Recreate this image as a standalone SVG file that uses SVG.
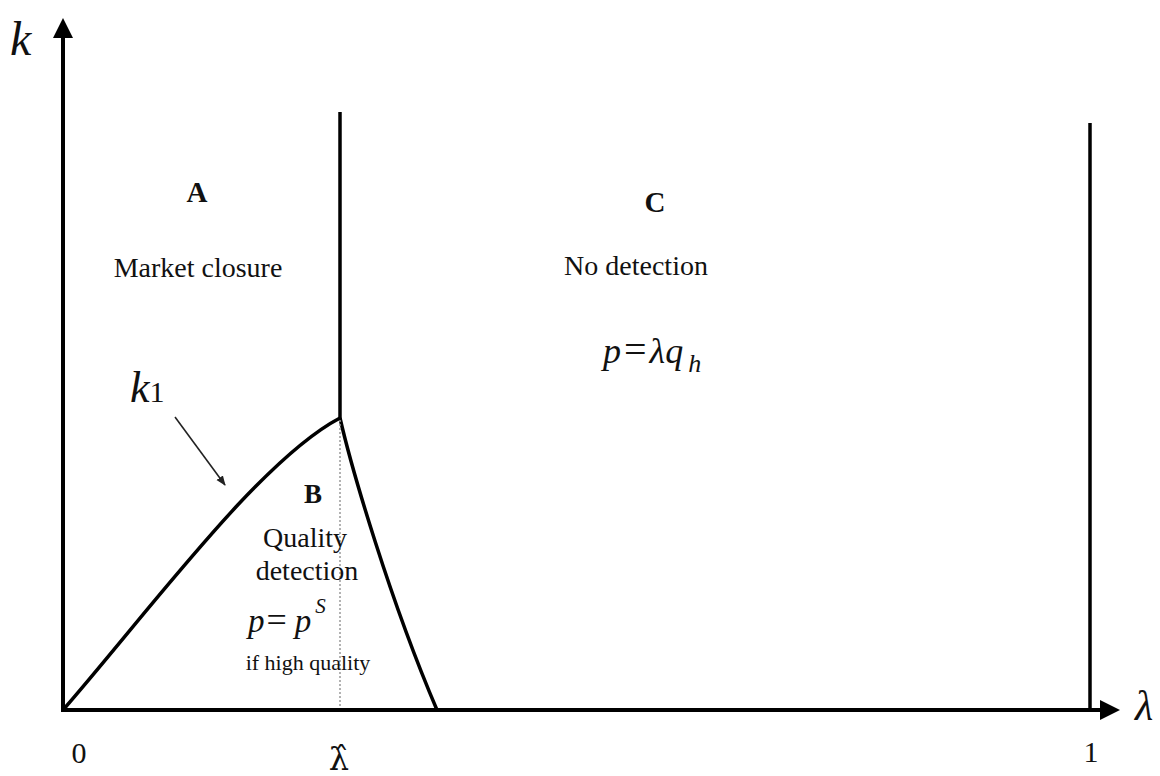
<svg xmlns="http://www.w3.org/2000/svg" width="1160" height="776" viewBox="0 0 1160 776">
<style>
  text { font-family: "Liberation Serif", "Times New Roman", serif; fill: #111; }
  .it { font-style: italic; }
  .b { font-weight: bold; }
  .axis { stroke: #000; stroke-width: 4; fill: none; }
  .bound { stroke: #000; stroke-width: 3.5; fill: none; }
  .dot { stroke: #999; stroke-width: 1.5; stroke-dasharray: 2 2; fill: none; }
  .pointer { stroke: #222; stroke-width: 1.6; fill: none; }
</style>
<defs>
  <marker id="smallArrow" markerWidth="10" markerHeight="10" refX="9" refY="5" orient="auto" markerUnits="userSpaceOnUse">
    <path d="M0,1 L10,5 L0,9 Z" fill="#222"/>
  </marker>
</defs>
<rect width="1160" height="776" fill="#fff"/>

<g id="connectors">
  <line class="axis" x1="63" y1="712" x2="63" y2="34"/>
  <path d="M53,38 L63,18 L73,38 Z" fill="#000"/>
  <line class="axis" x1="61" y1="710" x2="1104" y2="710"/>
  <path d="M1100,700 L1120,710 L1100,720 Z" fill="#000"/>
  <line class="bound" x1="340" y1="112" x2="340" y2="420"/>
  <line class="bound" x1="1090" y1="123" x2="1090" y2="710"/>
  <path class="bound" d="M63,710 C150,610 260,460 340,418"/>
  <path class="bound" d="M340,418 C352,470 390,600 437,710"/>
  <line class="dot" x1="340" y1="420" x2="340" y2="708"/>
  <line class="pointer" x1="175" y1="417" x2="225" y2="485" marker-end="url(#smallArrow)"/>
</g>

<g id="axis-k"><text class="it" x="10" y="55" font-size="48">k</text></g>
<g id="axis-lambda"><text class="it" x="1135" y="720" font-size="42">λ</text></g>
<g id="tick-0"><text x="79" y="763" font-size="30" text-anchor="middle">0</text></g>
<g id="tick-lambdahat"><text x="339" y="770" font-size="32" text-anchor="middle" style="font-family:'DejaVu Serif', serif">λ̂</text></g>
<g id="tick-1"><text x="1091" y="762" font-size="30" text-anchor="middle">1</text></g>

<g id="label-k1"><text x="130" y="402" font-size="44"><tspan class="it">k</tspan><tspan font-size="30">1</tspan></text></g>

<g id="region-A">
  <text class="b" x="197" y="202" font-size="29" text-anchor="middle">A</text>
  <text x="198" y="277" font-size="28" text-anchor="middle">Market closure</text>
</g>

<g id="region-C">
  <text class="b" x="655" y="212" font-size="29" text-anchor="middle">C</text>
  <text x="636" y="275" font-size="28" text-anchor="middle">No detection</text>
  <text x="603" y="363" font-size="36"><tspan class="it">p</tspan><tspan dx="3" font-size="40">=</tspan><tspan class="it" dx="3">λq</tspan><tspan class="it" font-size="26" dy="9" dx="5">h</tspan></text>
</g>

<g id="region-B">
  <text class="b" x="313" y="503" font-size="27" text-anchor="middle">B</text>
  <text x="305" y="547" font-size="28" text-anchor="middle">Quality</text>
  <text x="307" y="580" font-size="28" text-anchor="middle">detection</text>
  <text x="248" y="632" font-size="33"><tspan class="it">p</tspan><tspan dx="2" font-size="36">=</tspan><tspan class="it" dx="8">p</tspan><tspan class="it" font-size="21" dy="-19" dx="4">S</tspan></text>
  <text x="308" y="670" font-size="22" text-anchor="middle">if high quality</text>
</g>
</svg>
